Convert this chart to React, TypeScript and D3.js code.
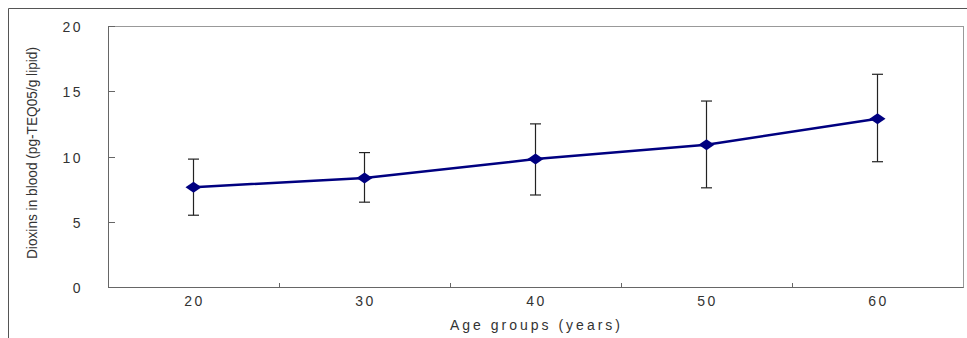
import React, { useEffect, useRef } from 'react';
import * as d3 from 'd3';

const ageGroups = ['20', '30', '40', '50', '60'];
const meanValues = [7.65, 8.35, 9.8, 10.9, 12.9];
const upperValues = [9.8, 10.3, 12.5, 14.25, 16.3];
const lowerValues = [5.5, 6.5, 7.05, 7.6, 9.6];
const yTicks = [0, 5, 10, 15, 20];

const W = 967;
const H = 338;

const App = () => {
  const svgRef = useRef<SVGSVGElement>(null);
  const margin = { top: 26, right: 4, bottom: 51, left: 108 };

  useEffect(() => {
    const svg = d3.select(svgRef.current);
    svg.selectAll('*').remove();

    const font = '"Liberation Sans", Arial, sans-serif';
    const x0 = margin.left;
    const x1 = W - margin.right;
    const y0 = H - margin.bottom;
    const y1 = margin.top;

    const xScale = d3.scaleBand().domain(ageGroups).range([x0, x1]);
    const yScale = d3.scaleLinear().domain([0, 20]).range([y0, y1]);

    // outer frame
    svg.append('path')
      .attr('d', `M8.5,${H}V8.5H${W}`)
      .attr('fill', 'none')
      .attr('stroke', '#555')
      .attr('stroke-width', 1);

    // plot box
    svg.append('rect')
      .attr('x', x0 + 0.5).attr('y', y1 + 0.5)
      .attr('width', x1 - x0).attr('height', y0 - y1)
      .attr('fill', 'none')
      .attr('stroke', '#999');
    svg.append('path')
      .attr('d', `M${x0 + 0.5},${y1}V${y0 + 0.5}H${x1 + 0.5}`)
      .attr('fill', 'none')
      .attr('stroke', '#666');

    // y ticks
    const yg = svg.append('g');
    yTicks.forEach(t => {
      const y = Math.round(yScale(t)) + 0.5;
      yg.append('line')
        .attr('x1', x0).attr('x2', x0 + 7)
        .attr('y1', y).attr('y2', y)
        .attr('stroke', '#666');
      yg.append('text')
        .attr('x', 83).attr('y', y + 5)
        .attr('text-anchor', 'end')
        .attr('font-family', font).attr('font-size', 14)
        .attr('letter-spacing', 2.5)
        .attr('fill', '#333')
        .text(t);
    });

    // x ticks at band boundaries
    ageGroups.slice(1).forEach(g => {
      const x = Math.round(xScale(g)!) + 0.5;
      svg.append('line')
        .attr('x1', x).attr('x2', x)
        .attr('y1', y0).attr('y2', y0 - 4)
        .attr('stroke', '#666');
    });
    ageGroups.forEach(g => {
      svg.append('text')
        .attr('x', xScale(g)! + xScale.bandwidth() / 2 + 1)
        .attr('y', 306)
        .attr('text-anchor', 'middle')
        .attr('font-family', font).attr('font-size', 14)
        .attr('letter-spacing', 2.5)
        .attr('fill', '#333')
        .text(g);
    });

    const cx = (i: number) => xScale(ageGroups[i])! + xScale.bandwidth() / 2;

    // error bars
    const eg = svg.append('g').attr('stroke', '#222').attr('stroke-width', 1.2);
    meanValues.forEach((_, i) => {
      const x = cx(i);
      eg.append('line')
        .attr('x1', x).attr('x2', x)
        .attr('y1', yScale(upperValues[i])).attr('y2', yScale(lowerValues[i]));
      [upperValues[i], lowerValues[i]].forEach(v => {
        eg.append('line')
          .attr('x1', x - 5.5).attr('x2', x + 5.5)
          .attr('y1', yScale(v)).attr('y2', yScale(v));
      });
    });

    // line
    const line = d3.line<number>()
      .x((_, i) => cx(i))
      .y(d => yScale(d));
    svg.append('path')
      .datum(meanValues)
      .attr('d', line)
      .attr('fill', 'none')
      .attr('stroke', '#000080')
      .attr('stroke-width', 2.5);

    // diamond markers
    svg.selectAll('.marker')
      .data(meanValues)
      .enter().append('path')
      .attr('class', 'marker')
      .attr('d', (d, i) => {
        const x = cx(i);
        const y = yScale(d);
        return `M${x - 8},${y}L${x},${y - 5.5}L${x + 8},${y}L${x},${y + 5.5}Z`;
      })
      .attr('fill', '#000080');

    // axis titles
    svg.append('text')
      .attr('x', 450)
      .attr('y', 330)
      .attr('font-family', font).attr('font-size', 14)
      .attr('textLength', 170)
      .attr('lengthAdjust', 'spacing')
      .attr('fill', '#333')
      .text('Age groups (years)');

    svg.append('text')
      .attr('transform', `translate(37, ${153}) rotate(-90)`)
      .attr('text-anchor', 'middle')
      .attr('font-family', font).attr('font-size', 14)
      .attr('textLength', 212)
      .attr('lengthAdjust', 'spacingAndGlyphs')
      .attr('fill', '#333')
      .text('Dioxins in blood (pg-TEQ05/g lipid)');
  // eslint-disable-next-line react-hooks/exhaustive-deps
  }, []);

  return (
    <svg ref={svgRef} width={W} height={H}
      style={{ position: 'absolute', left: 0, top: 0, background: '#fff' }} />
  );
};

export default App;
